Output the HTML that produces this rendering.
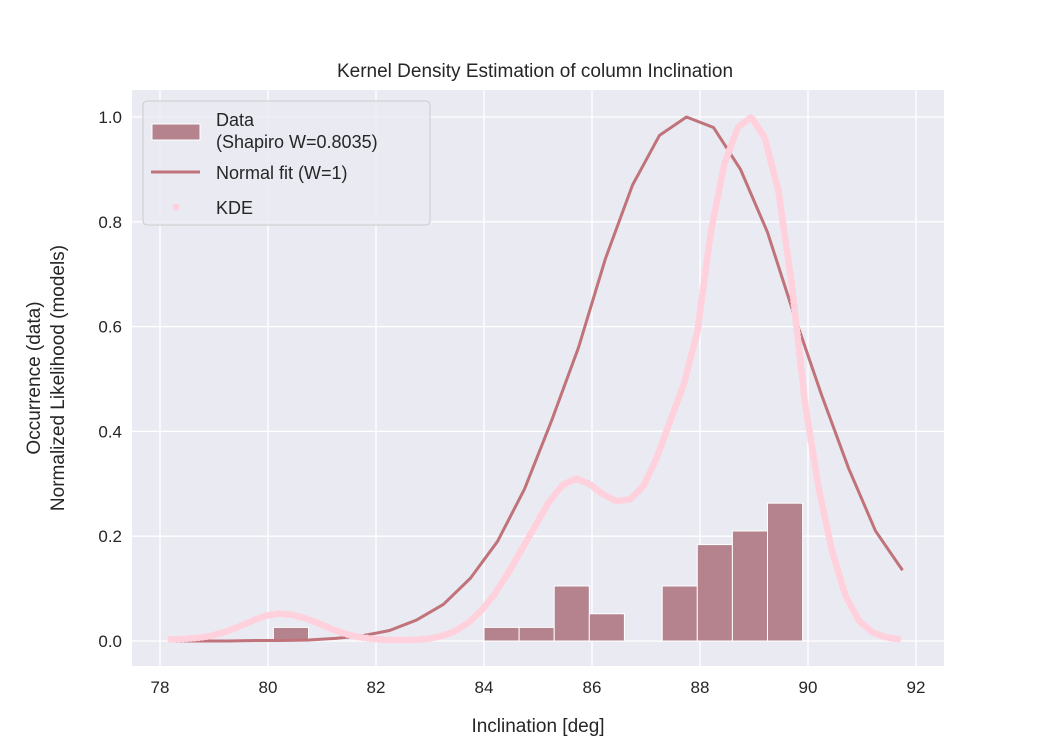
<!DOCTYPE html>
<html><head><meta charset="utf-8"><style>
body{margin:0;background:#fff;}
svg text{font-family:"Liberation Sans",sans-serif;fill:#262626;}
</style></head><body>
<svg id="c" width="1050" height="750" xmlns="http://www.w3.org/2000/svg">
<rect x="132" y="90" width="812" height="576" fill="#eaeaf2"/>
<g id="grid"></g>
<g id="bars"></g>
<g id="lines"></g>
<g id="ticks"></g>
<text x="535" y="77" font-size="19" text-anchor="middle">Kernel Density Estimation of column Inclination</text>
<text x="538" y="732" font-size="19" text-anchor="middle">Inclination [deg]</text>
<text transform="translate(40,378) rotate(-90)" font-size="19" text-anchor="middle">Occurrence (data)</text>
<text transform="translate(64,378) rotate(-90)" font-size="19" text-anchor="middle">Normalized Likelihood (models)</text>
<g>
<rect x="143" y="101" width="287" height="124" rx="4" fill="#eaeaf2" fill-opacity="0.8" stroke="#cccccc"/>
<rect x="152" y="124" width="48" height="16" fill="#b5838e" stroke="#fff"/>
<text x="216" y="126" font-size="18">Data</text>
<text x="216" y="148" font-size="18">(Shapiro W=0.8035)</text>
<line x1="151" y1="172" x2="200" y2="172" stroke="#c0737a" stroke-width="3"/>
<text x="216" y="179" font-size="18">Normal fit (W=1)</text>
<circle cx="176" cy="207" r="3.5" fill="#ffd1dc"/>
<text x="216" y="214" font-size="18">KDE</text>
</g>
</svg>
<script>
const binStarts=[80.1,84.0,84.65,85.3,85.95,87.3,87.95,88.6,89.25];
const binCounts=[0.026,0.026,0.026,0.105,0.052,0.105,0.184,0.21,0.263];
const binWidth=0.65;
const normX=[78.25,78.75,79.25,79.75,80.25,80.75,81.25,81.75,82.25,82.75,83.25,83.75,84.25,84.75,85.25,85.75,86.25,86.75,87.25,87.75,88.25,88.75,89.25,89.75,90.25,90.75,91.25,91.75];
const normY=[0,0,0,0.001,0.001,0.002,0.005,0.01,0.02,0.04,0.07,0.12,0.19,0.29,0.42,0.56,0.73,0.87,0.965,1.0,0.98,0.9,0.78,0.62,0.47,0.33,0.21,0.135];
const kdeX=[78.2,78.45,78.7,78.95,79.2,79.45,79.7,79.95,80.2,80.45,80.7,80.95,81.2,81.45,81.7,81.95,82.2,82.45,82.7,82.95,83.2,83.45,83.7,83.95,84.2,84.45,84.7,84.95,85.2,85.45,85.7,85.95,86.2,86.45,86.7,86.95,87.2,87.45,87.7,87.95,88.2,88.45,88.7,88.95,89.2,89.45,89.7,89.95,90.2,90.45,90.7,90.95,91.2,91.45,91.7];
const kdeY=[0.003,0.004,0.006,0.01,0.017,0.027,0.038,0.048,0.052,0.05,0.043,0.033,0.022,0.013,0.007,0.004,0.002,0.002,0.002,0.004,0.009,0.018,0.034,0.058,0.09,0.13,0.175,0.22,0.265,0.297,0.31,0.3,0.28,0.267,0.27,0.295,0.35,0.42,0.49,0.59,0.78,0.91,0.98,1.0,0.96,0.86,0.68,0.45,0.29,0.17,0.085,0.038,0.016,0.007,0.003];
const xTicks=[78,80,82,84,86,88,90,92];
const yTicks=[0,0.2,0.4,0.6,0.8,1.0];
const sx=v=>160+(v-78)*54;
const sy=v=>641-v*524;
const NS='http://www.w3.org/2000/svg';
function mk(p,t,a){const e=document.createElementNS(NS,t);for(const k in a)e.setAttribute(k,a[k]);p.appendChild(e);return e;}
const grid=document.getElementById('grid'),ticks=document.getElementById('ticks');
xTicks.forEach(t=>{
 const l=mk(grid,'line',{x1:sx(t),x2:sx(t),y1:90,y2:666,stroke:'#fff','stroke-width':1.3});
 
 
 const tx=mk(ticks,'text',{x:sx(t),y:693,'font-size':17,'text-anchor':'middle'});
 tx.textContent=t;
 
 
});
yTicks.forEach(t=>{
 const l=mk(grid,'line',{x1:132,x2:944,y1:sy(t),y2:sy(t),stroke:'#fff','stroke-width':1.3});
 
 
 const tx=mk(ticks,'text',{x:122,y:sy(t)+6,'font-size':17,'text-anchor':'end'});
 tx.textContent=t.toFixed(1);
 
 
});
const bars=document.getElementById('bars');
binStarts.forEach((b,i)=>{
 const r=mk(bars,'rect',{x:sx(b),y:sy(binCounts[i]),width:binWidth*54,height:sy(0)-sy(binCounts[i]),fill:'#b5838e',stroke:'#fff','stroke-width':1});
 
 
});
const lines=document.getElementById('lines');
const np=mk(lines,'polyline',{points:normX.map((x,i)=>sx(x)+','+sy(normY[i])).join(' '),fill:'none',stroke:'#c0737a','stroke-width':3,'stroke-linejoin':'round'});


const kp=mk(lines,'polyline',{points:kdeX.map((x,i)=>sx(x)+','+sy(kdeY[i])).join(' '),fill:'none',stroke:'#ffd1dc','stroke-width':7,'stroke-linecap':'round','stroke-dasharray':'0 4'});


</script>
</body></html>
